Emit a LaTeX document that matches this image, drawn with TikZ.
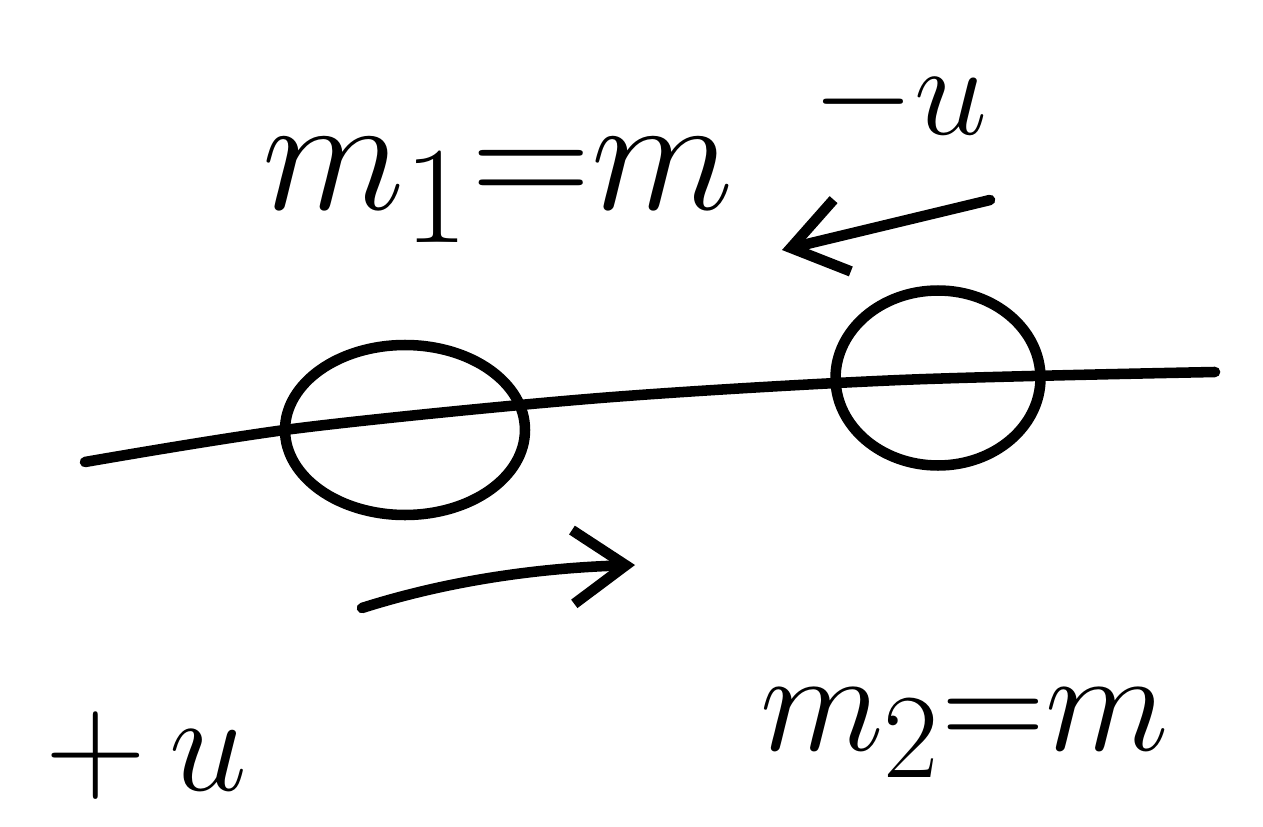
\documentclass[tikz,border=0pt]{standalone}
\usetikzlibrary{shapes.geometric,arrows.meta}
\begin{document}
\begin{tikzpicture}[x=0.02cm,y=-0.02cm,
  pen/.style={line width=6pt, line cap=round, line join=round},
  ball/.style={ellipse, draw, line width=6pt, inner sep=0pt},
  lbl/.style={font=\Huge, inner sep=0pt, anchor=base west},
  headtip/.style={-{Straight Barb[length=30pt,width=42pt,line width=6pt]}}]
\useasboundingbox (0,0) rectangle (1263,827);
% axis line
\coordinate (L) at (85,462);
\coordinate (R) at (1215,372);
\draw[pen] plot[smooth] coordinates {(L) (300,428) (600,398) (900,380) (R)};
% balls
\node[ball, minimum width=4.8cm, minimum height=3.4cm] (c1) at (405,430) {};
\node[ball, minimum width=4.1cm, minimum height=3.5cm] (c2) at (938,378) {};
% velocity arrows
\coordinate (a1s) at (990,200);
\coordinate (a1e) at (782,250);
\draw[pen, headtip] (a1s) -- (a1e);
\coordinate (a2s) at (362,608);
\coordinate (a2e) at (635,565);
\draw[pen, headtip] (a2s) .. controls (450,580) and (540,568) .. (a2e);
% labels
\node[lbl] (m1) at (262,210) {\scalebox{3.8}{$m_1{=}m$}};
\node[lbl] (mu) at (812,135) {\scalebox{3.0}{$-u$}};
\node[lbl] (pu) at (45,790) {\scalebox{3.2}{$+\,u$}};
\node[lbl] (m2) at (760,750) {\scalebox{3.3}{$m_2{=}m$}};
\end{tikzpicture}
\end{document}
